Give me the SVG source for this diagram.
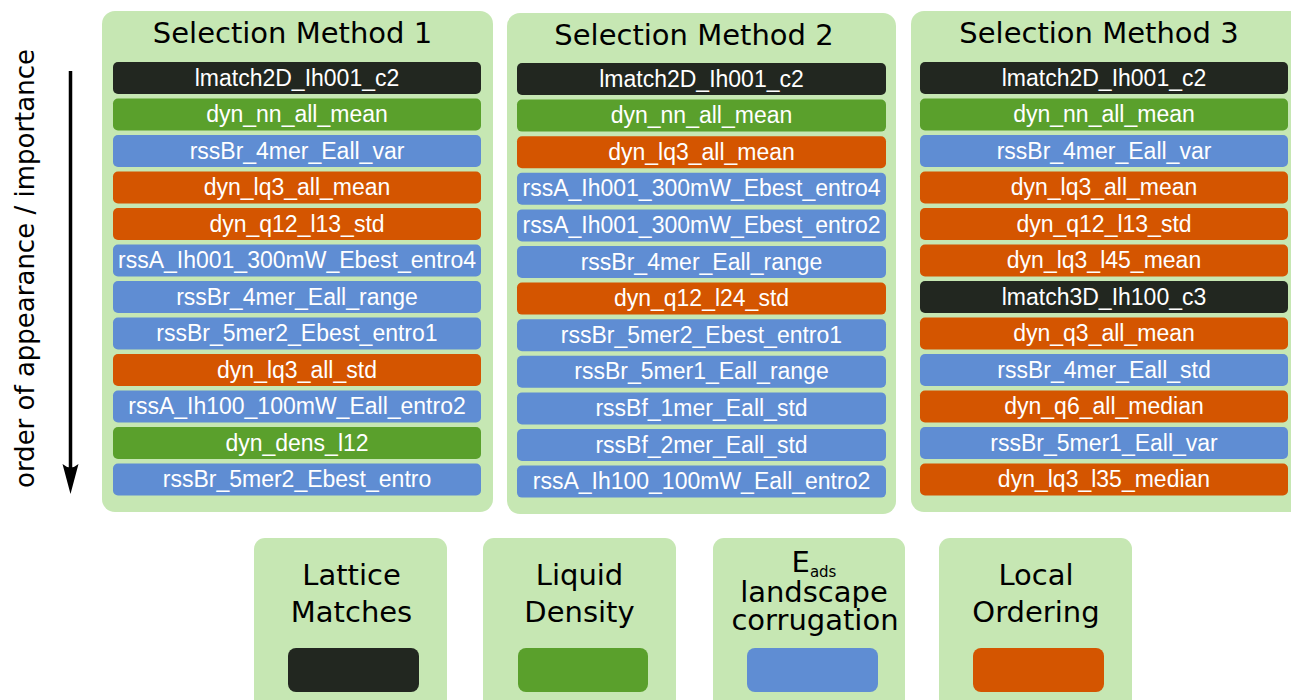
<svg xmlns="http://www.w3.org/2000/svg" width="1291" height="700" viewBox="0 0 1291 700">
<style>
.panel{fill:#c6e7b3}
.k{fill:#222720}
.g{fill:#5aa02c}
.b{fill:#5f8dd3}
.o{fill:#d45500}
.h{font-family:"DejaVu Sans",Verdana,sans-serif;font-size:29px;fill:#000;text-anchor:middle}
.t{font-family:"Liberation Sans",Arial,sans-serif;font-size:23px;fill:#fff;text-anchor:middle}
</style>
<rect width="1291" height="700" fill="#fff"/>
<g id="axis">
<text class="h" style="font-size:26px" transform="translate(34,268.5) rotate(-90)">order of appearance / importance</text>
</g>
<g id="connectors">
<line x1="70.5" y1="71" x2="70.5" y2="472" stroke="#000" stroke-width="3.5"/>
<path d="M70.5,494 L62.5,464 Q70.5,471 78.5,464 Z" fill="#000"/>
</g>
<g id="method1">
<rect class="panel" x="102" y="11" width="391" height="501" rx="13"/>
<text class="h" x="292.5" y="43">Selection Method 1</text>
<rect class="k" x="113" y="62" width="368" height="32" rx="5"/><text class="t" x="297" y="85.5">lmatch2D_Ih001_c2</text>
<rect class="g" x="113" y="98.5" width="368" height="32" rx="5"/><text class="t" x="297" y="122">dyn_nn_all_mean</text>
<rect class="b" x="113" y="135" width="368" height="32" rx="5"/><text class="t" x="297" y="158.5">rssBr_4mer_Eall_var</text>
<rect class="o" x="113" y="171.5" width="368" height="32" rx="5"/><text class="t" x="297" y="195">dyn_lq3_all_mean</text>
<rect class="o" x="113" y="208" width="368" height="32" rx="5"/><text class="t" x="297" y="231.5">dyn_q12_l13_std</text>
<rect class="b" x="113" y="244.5" width="368" height="32" rx="5"/><text class="t" x="297" y="268">rssA_Ih001_300mW_Ebest_entro4</text>
<rect class="b" x="113" y="281" width="368" height="32" rx="5"/><text class="t" x="297" y="304.5">rssBr_4mer_Eall_range</text>
<rect class="b" x="113" y="317.5" width="368" height="32" rx="5"/><text class="t" x="297" y="341">rssBr_5mer2_Ebest_entro1</text>
<rect class="o" x="113" y="354" width="368" height="32" rx="5"/><text class="t" x="297" y="377.5">dyn_lq3_all_std</text>
<rect class="b" x="113" y="390.5" width="368" height="32" rx="5"/><text class="t" x="297" y="414">rssA_Ih100_100mW_Eall_entro2</text>
<rect class="g" x="113" y="427" width="368" height="32" rx="5"/><text class="t" x="297" y="450.5">dyn_dens_l12</text>
<rect class="b" x="113" y="463.5" width="368" height="32" rx="5"/><text class="t" x="297" y="487">rssBr_5mer2_Ebest_entro</text>
</g>
<g id="method2">
<rect class="panel" x="507" y="13" width="389" height="501" rx="13"/>
<text class="h" x="694" y="45">Selection Method 2</text>
<rect class="k" x="517" y="63" width="369" height="32" rx="5"/><text class="t" x="701.5" y="86.5">lmatch2D_Ih001_c2</text>
<rect class="g" x="517" y="99.6" width="369" height="32" rx="5"/><text class="t" x="701.5" y="123.1">dyn_nn_all_mean</text>
<rect class="o" x="517" y="136.2" width="369" height="32" rx="5"/><text class="t" x="701.5" y="159.7">dyn_lq3_all_mean</text>
<rect class="b" x="517" y="172.8" width="369" height="32" rx="5"/><text class="t" x="701.5" y="196.3">rssA_Ih001_300mW_Ebest_entro4</text>
<rect class="b" x="517" y="209.4" width="369" height="32" rx="5"/><text class="t" x="701.5" y="232.9">rssA_Ih001_300mW_Ebest_entro2</text>
<rect class="b" x="517" y="246" width="369" height="32" rx="5"/><text class="t" x="701.5" y="269.5">rssBr_4mer_Eall_range</text>
<rect class="o" x="517" y="282.6" width="369" height="32" rx="5"/><text class="t" x="701.5" y="306.1">dyn_q12_l24_std</text>
<rect class="b" x="517" y="319.2" width="369" height="32" rx="5"/><text class="t" x="701.5" y="342.7">rssBr_5mer2_Ebest_entro1</text>
<rect class="b" x="517" y="355.8" width="369" height="32" rx="5"/><text class="t" x="701.5" y="379.3">rssBr_5mer1_Eall_range</text>
<rect class="b" x="517" y="392.4" width="369" height="32" rx="5"/><text class="t" x="701.5" y="415.9">rssBf_1mer_Eall_std</text>
<rect class="b" x="517" y="429" width="369" height="32" rx="5"/><text class="t" x="701.5" y="452.5">rssBf_2mer_Eall_std</text>
<rect class="b" x="517" y="465.6" width="369" height="32" rx="5"/><text class="t" x="701.5" y="489.1">rssA_Ih100_100mW_Eall_entro2</text>
</g>
<g id="method3">
<rect class="panel" x="911" y="11" width="392" height="501" rx="13"/>
<text class="h" x="1099" y="43">Selection Method 3</text>
<rect class="k" x="920" y="62" width="368" height="32" rx="5"/><text class="t" x="1104" y="85.5">lmatch2D_Ih001_c2</text>
<rect class="g" x="920" y="98.5" width="368" height="32" rx="5"/><text class="t" x="1104" y="122">dyn_nn_all_mean</text>
<rect class="b" x="920" y="135" width="368" height="32" rx="5"/><text class="t" x="1104" y="158.5">rssBr_4mer_Eall_var</text>
<rect class="o" x="920" y="171.5" width="368" height="32" rx="5"/><text class="t" x="1104" y="195">dyn_lq3_all_mean</text>
<rect class="o" x="920" y="208" width="368" height="32" rx="5"/><text class="t" x="1104" y="231.5">dyn_q12_l13_std</text>
<rect class="o" x="920" y="244.5" width="368" height="32" rx="5"/><text class="t" x="1104" y="268">dyn_lq3_l45_mean</text>
<rect class="k" x="920" y="281" width="368" height="32" rx="5"/><text class="t" x="1104" y="304.5">lmatch3D_Ih100_c3</text>
<rect class="o" x="920" y="317.5" width="368" height="32" rx="5"/><text class="t" x="1104" y="341">dyn_q3_all_mean</text>
<rect class="b" x="920" y="354" width="368" height="32" rx="5"/><text class="t" x="1104" y="377.5">rssBr_4mer_Eall_std</text>
<rect class="o" x="920" y="390.5" width="368" height="32" rx="5"/><text class="t" x="1104" y="414">dyn_q6_all_median</text>
<rect class="b" x="920" y="427" width="368" height="32" rx="5"/><text class="t" x="1104" y="450.5">rssBr_5mer1_Eall_var</text>
<rect class="o" x="920" y="463.5" width="368" height="32" rx="5"/><text class="t" x="1104" y="487">dyn_lq3_l35_median</text>
</g>
<g id="legend-lattice">
<rect class="panel" x="254" y="538" width="193" height="180" rx="11"/>
<text class="h" x="351.5" y="585">Lattice<tspan x="351.5" dy="37">Matches</tspan></text>
<rect class="k" x="288" y="648" width="131" height="44" rx="8"/>
</g>
<g id="legend-liquid">
<rect class="panel" x="483" y="538" width="193" height="180" rx="11"/>
<text class="h" x="579.5" y="585">Liquid<tspan x="579.5" dy="37">Density</tspan></text>
<rect class="g" x="518" y="648" width="130" height="44" rx="8"/>
</g>
<g id="legend-eads">
<rect class="panel" x="713" y="538" width="192" height="180" rx="11"/>
<text class="h" x="814" y="572">E<tspan style="font-size:15px" dy="5">ads</tspan><tspan x="814" dy="25">landscape</tspan><tspan x="815" dy="28">corrugation</tspan></text>
<rect class="b" x="747" y="648" width="131" height="44" rx="8"/>
</g>
<g id="legend-local">
<rect class="panel" x="939" y="538" width="193" height="180" rx="11"/>
<text class="h" x="1036" y="585">Local<tspan x="1036" dy="37">Ordering</tspan></text>
<rect class="o" x="973" y="648" width="131" height="44" rx="8"/>
</g>
</svg>
